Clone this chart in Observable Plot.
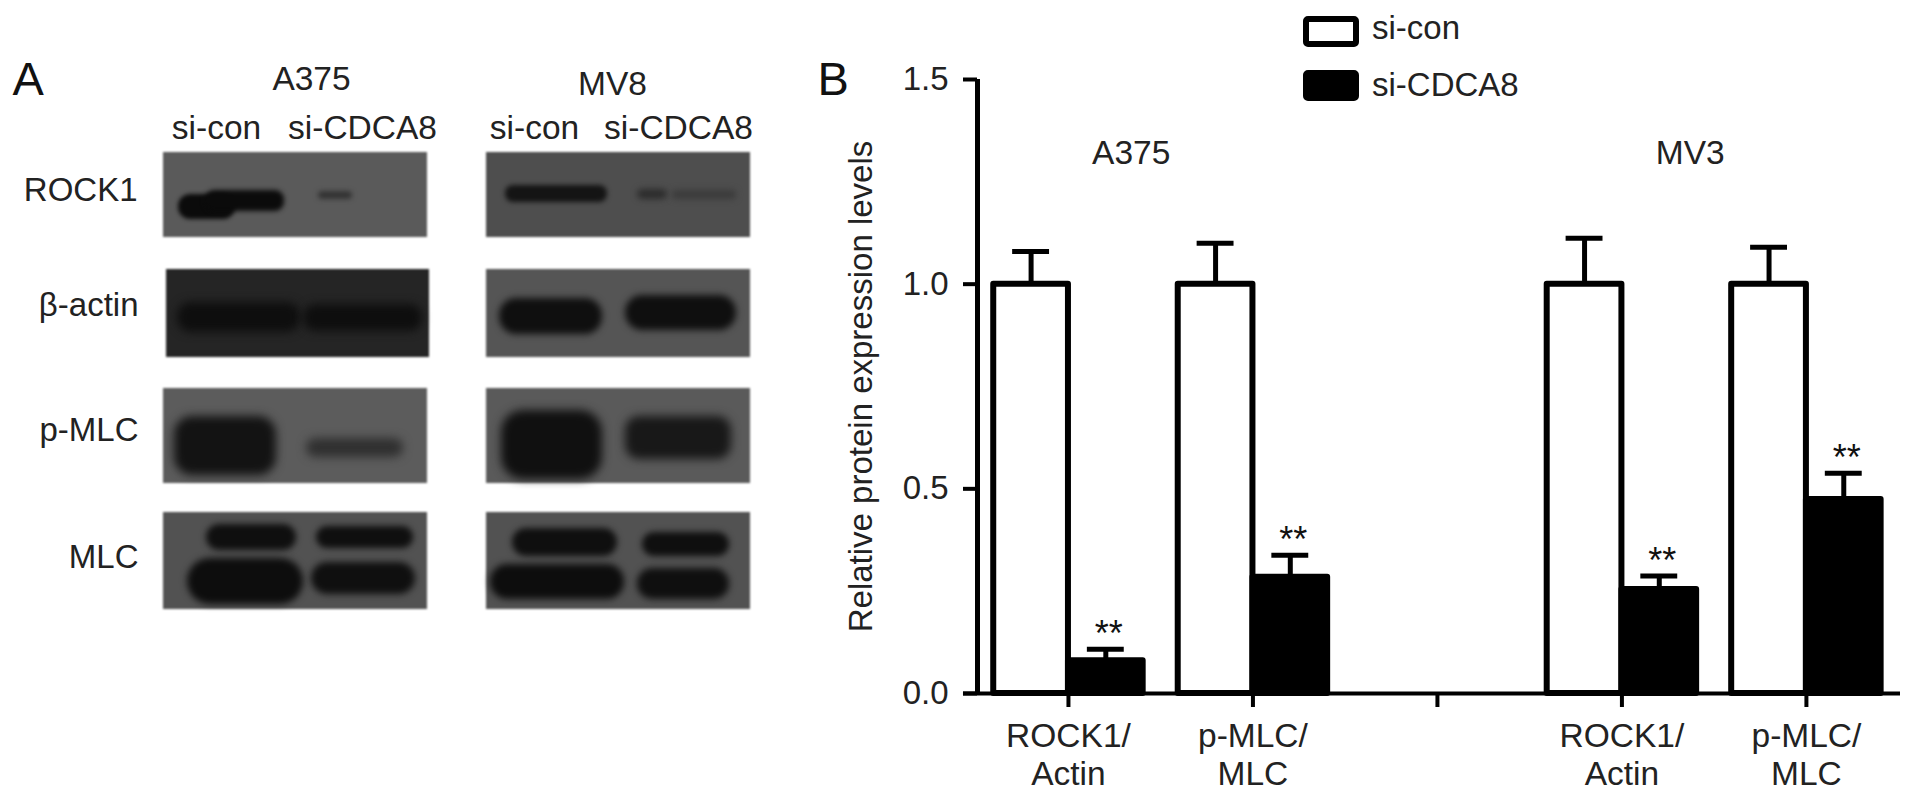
<!DOCTYPE html>
<html><head><meta charset="utf-8">
<script src="https://cdn.jsdelivr.net/npm/d3@7"></script>
<script src="https://cdn.jsdelivr.net/npm/@observablehq/plot@0.6"></script>
<style>
html,body{margin:0;padding:0;background:#fff;width:1913px;height:802px;overflow:hidden}
#stage{position:relative;width:1913px;height:802px;font-family:"Liberation Sans",Arial,sans-serif;color:#222}
#stage svg{position:absolute;top:0;background:transparent;max-width:none}
.lg{position:absolute;left:1303px;width:56px;height:31px;box-sizing:border-box;border:6px solid #000;border-radius:5px}
.lt{position:absolute;left:1372px;font-size:33px;line-height:33px;white-space:nowrap}
</style></head><body><div id="stage">
<div class="lg" style="top:16px;background:#fff"></div><div class="lt" style="top:11px">si-con</div>
<div class="lg" style="top:70px;background:#000"></div><div class="lt" style="top:68px">si-CDCA8</div>
</div>
<script>
const FONT = '"Liberation Sans",Arial,sans-serif';
// Panel B: bar chart values
const groupLabels = ["ROCK1/\nActin", "p-MLC/\nMLC", "", "ROCK1/\nActin", "p-MLC/\nMLC"];
const positions = [1, 2, 4, 5];
const siConValues = [1.0, 1.0, 1.0, 1.0];
const siConUpper = [1.08, 1.10, 1.112, 1.09];
const siCdca8Values = [0.08, 0.284, 0.254, 0.474];
const siCdca8Upper = [0.108, 0.338, 0.287, 0.538];
const cellLines = [{name: "A375", at: 1.34}, {name: "MV3", at: 4.37}];
const barW = 0.405, capW = 0.1;

// Panel A: western blot picture, in the reference's image units
const blotPanels = [
  [163,427,152,237,"#5a5a5a"],[486,750,152,237,"#4e4e4e"],
  [166,429,269,357,"#252525"],[486,750,269,357,"#555555"],
  [163,427,388,483,"#5c5c5c"],[486,750,388,483,"#5a5a5a"],
  [163,427,512,609,"#525252"],[486,750,512,609,"#525252"]
];
const blotBands = [
  [178,235,194,219,"#0b0b0b",12,2],[205,284,190,211,"#0b0b0b",9,2.5],
  [318,352,191,199,"#333",4,2.5],
  [505,607,185,202,"#141414",8,2.5],[637,667,189,199,"#2c2c2c",5,3],[672,736,190,199,"#3b3b3b",4,3],
  [177,300,302,332,"#0e0e0e",14,5],[303,422,304,331,"#0e0e0e",13,5],
  [499,602,298,334,"#0f0f0f",17,3.5],[625,736,295,330,"#0f0f0f",17,3.5],
  [174,276,416,475,"#131313",18,5],[306,403,438,457,"#303030",9,5],
  [501,602,410,479,"#101010",22,5],[625,731,416,459,"#181818",14,5],
  [206,296,524,550,"#0f0f0f",13,3],[316,413,526,548,"#0f0f0f",11,3],
  [187,303,558,604,"#0d0d0d",23,3.5],[311,415,562,594,"#0f0f0f",16,3.5],
  [512,617,528,556,"#0f0f0f",14,3],[642,729,532,556,"#0f0f0f",12,3],
  [490,624,564,599,"#0d0d0d",17,3.5],[637,729,568,599,"#0f0f0f",15,3.5]
];
const blotHeads = [
  ["A375",311,89],["MV8",612,94],
  ["si-con",216,138],["si-CDCA8",362,138],
  ["si-con",534,138],["si-CDCA8",678,138]
];
const blotRows = [["ROCK1",137,200],["β-actin",138,315],["p-MLC",138,440],["MLC",138,567]];

const panelA = Plot.plot({
  width: 790, height: 802, margin: 0,
  x: {domain: [0, 790], axis: null}, y: {domain: [802, 0], axis: null},
  style: {background: "transparent"},
  marks: [
    Plot.rect(blotPanels, {x1: d=>d[0], x2: d=>d[1], y1: d=>d[2], y2: d=>d[3], fill: d=>d[4], imageFilter: "blur(1px)"}),
    ...blotBands.map(b => Plot.rect([b], {x1: d=>d[0], x2: d=>d[1], y1: d=>d[2], y2: d=>d[3], fill: d=>d[4], rx: b[5], imageFilter: `blur(${b[6]}px)`})),
    Plot.text(blotHeads, {text: d=>d[0], x: d=>d[1], y: d=>d[2], textAnchor: "middle", lineAnchor: "bottom", fontSize: 33.5, fontFamily: FONT, fill: "#222"}),
    Plot.text(blotRows, {text: d=>d[0], x: d=>d[1], y: d=>d[2], textAnchor: "end", lineAnchor: "bottom", fontSize: 33, fontFamily: FONT, fill: "#222"}),
    Plot.text(["A"], {x: () => 12, y: () => 94, lineAnchor: "bottom", textAnchor: "start", fontSize: 47, fontFamily: FONT, fill: "#111"})
  ]
});
panelA.style.left = "0px";

const xMin = 0.507, xMax = 5.51;
const rows = positions.map((p, i) => ({p, con: siConValues[i], conU: siConUpper[i], cd: siCdca8Values[i], cdU: siCdca8Upper[i]}));
const panelB = Plot.plot({
  width: 1123, height: 802, marginLeft: 187, marginRight: 13, marginTop: 79, marginBottom: 109,
  style: {background: "transparent"},
  x: {domain: [xMin, xMax]},
  y: {domain: [0, 1.5]},
  marks: [
    Plot.ruleX(rows, {x: d=>d.p - barW/2, y1: d=>d.con, y2: d=>d.conU, stroke: "#000", strokeWidth: 5}),
    Plot.ruleY(rows, {y: d=>d.conU, x1: d=>d.p - barW/2 - capW, x2: d=>d.p - barW/2 + capW, stroke: "#000", strokeWidth: 5}),
    Plot.ruleX(rows, {x: d=>d.p + barW/2, y1: d=>d.cd, y2: d=>d.cdU, stroke: "#000", strokeWidth: 5}),
    Plot.ruleY(rows, {y: d=>d.cdU, x1: d=>d.p + barW/2 - capW, x2: d=>d.p + barW/2 + capW, stroke: "#000", strokeWidth: 5}),
    Plot.rectY(rows, {x1: d=>d.p - barW, x2: d=>d.p, y1: 0, y2: d=>d.con, fill: "#fff", stroke: "#000", strokeWidth: 6, strokeLinejoin: "round"}),
    Plot.rectY(rows, {x1: d=>d.p, x2: d=>d.p + barW, y1: 0, y2: d=>d.cd, fill: "#000", stroke: "#000", strokeWidth: 6, strokeLinejoin: "round"}),
    Plot.text(rows, {x: d=>d.p + barW/2, y: d=>d.cdU, text: () => "**", dy: -3, dx: 3, lineAnchor: "bottom", fontSize: 36, fontFamily: FONT, fill: "#111"}),
    Plot.text(cellLines, {x: d=>d.at, y: () => 1.293, text: d=>d.name, lineAnchor: "bottom", fontSize: 33.5, fontFamily: FONT, fill: "#222"}),
    Plot.axisY({ticks: [0, 0.5, 1, 1.5], tickFormat: d3.format(".1f"), tickSize: 14, tickPadding: 15, strokeWidth: 4, stroke: "#000", fontSize: 33, fontFamily: FONT, fill: "#222",
      label: "Relative protein expression levels", labelAnchor: "center", labelArrow: "none", labelOffset: 129}),
    Plot.axisX({ticks: [1, 2, 3, 4, 5], tickFormat: d => groupLabels[d - 1], tickSize: 14, tickPadding: 12, strokeWidth: 4, stroke: "#000", fontSize: 33.5, lineHeight: 1.15, fontFamily: FONT, fill: "#222", label: null}),
    Plot.ruleX([xMin], {y1: 0, y2: 1.5, stroke: "#000", strokeWidth: 5}),
    Plot.ruleY([0], {x1: xMin - 0.076, x2: xMax, stroke: "#000", strokeWidth: 4}),
    Plot.text(["B"], {frameAnchor: "top-left", dx: -160, dy: 15, lineAnchor: "bottom", textAnchor: "start", fontSize: 47, fontFamily: FONT, fill: "#111"})
  ]
});
panelB.style.left = "790px";
const stage = document.getElementById("stage");
stage.append(panelA, panelB);
</script></body></html>
